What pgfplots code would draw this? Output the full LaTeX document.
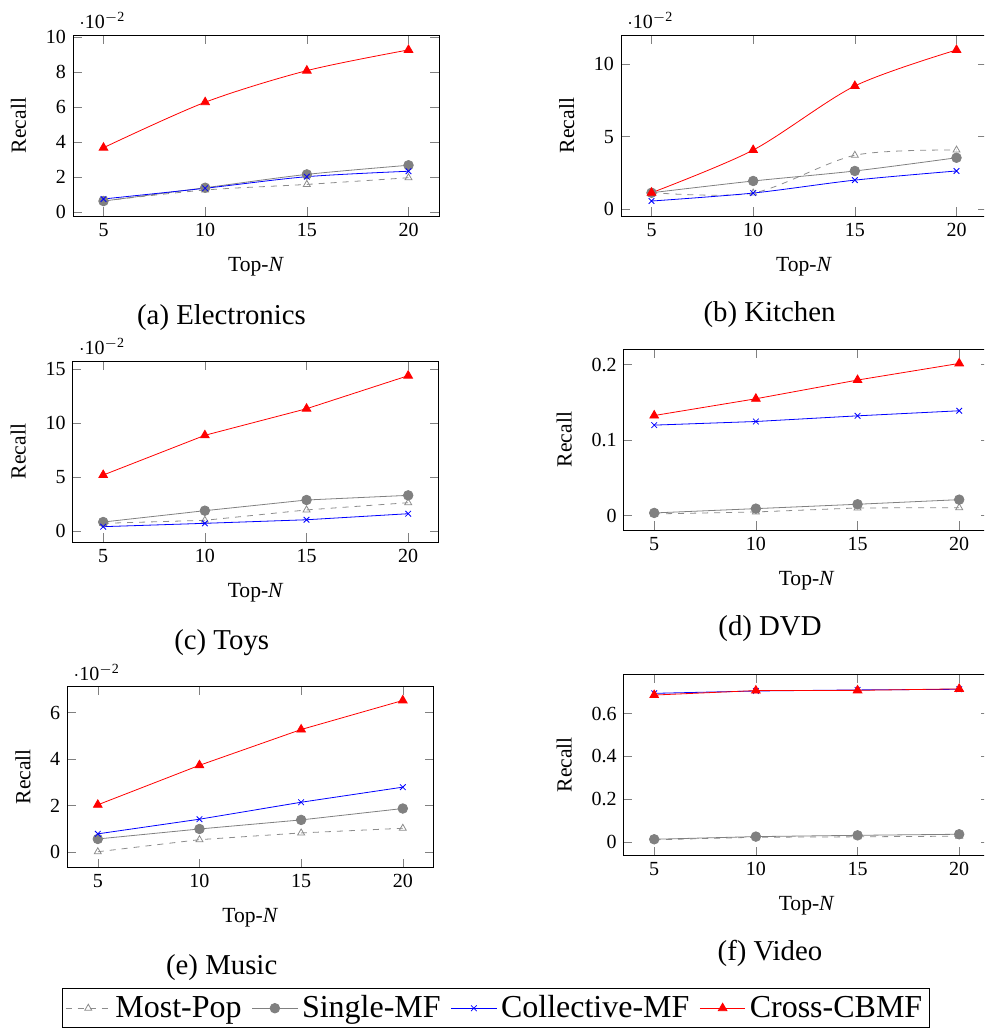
\documentclass[border=0pt]{standalone}
\usepackage{fontspec}
\setmainfont{Liberation Serif}
\usepackage{pgfplots}
\pgfplotsset{compat=1.18}

\pgfplotsset{
  panel/.style={
    scale only axis, width=183pt, height=90.5pt, anchor=south west,
    xmin=3.5, xmax=21.5, xtick={5,10,15,20}, enlargelimits=false,
    /pgf/number format/assume math mode=true,
    tick label style={font=\fontsize{10}{12}\selectfont},
    label style={font=\fontsize{10.8}{13}\selectfont},
    xlabel={Top-\textit{N}}, ylabel={Recall},
    xlabel style={yshift=-3.5pt}, ylabel style={yshift=3pt},
    ytick scale label code/.code={\(\cdot\)10\textsuperscript{\(-\)2}},
  },
  mostpop/.style={gray!90, dashed, mark=triangle, mark size=2pt, mark options={solid}},
  single/.style={gray, solid, mark=*, mark size=2.4pt},
  collective/.style={blue, solid, mark=x, mark size=2pt},
  cross/.style={red, solid, mark=triangle*, mark size=2.5pt},
}

\begin{document}
\begin{tikzpicture}
\useasboundingbox (0,0) rectangle (492pt,-516pt);
\clip (0,0) rectangle (492pt,-516pt);

% (a) Electronics
\begin{axis}[panel, at={(36.5pt,-108pt)}, ymin=-0.0021, ymax=0.101,
  ytick={0,0.02,0.04,0.06,0.08,0.1}, scaled y ticks=base 10:2]
\addplot[mostpop, smooth] coordinates {(5,0.0065) (10,0.0127) (15,0.0159) (20,0.0197)};
\addplot[single, smooth] coordinates {(5,0.0064) (10,0.0140) (15,0.0216) (20,0.0268)};
\addplot[collective, smooth] coordinates {(5,0.0076) (10,0.0137) (15,0.0203) (20,0.0234)};
\addplot[cross, smooth] coordinates {(5,0.0368) (10,0.0627) (15,0.0807) (20,0.0925)};
\end{axis}
\node[font=\fontsize{14.4}{17}\selectfont, anchor=base] at (110.75pt,-162pt) {(a) Electronics};

% (b) Kitchen
\begin{axis}[panel, at={(310.5pt,-108pt)}, ymin=-0.0046, ymax=0.12,
  ytick={0,0.05,0.1}, scaled y ticks=base 10:2]
\addplot[mostpop, smooth] coordinates {(5,0.0115) (10,0.0112) (15,0.0372) (20,0.0408)};
\addplot[single, smooth] coordinates {(5,0.0114) (10,0.0195) (15,0.0264) (20,0.0355)};
\addplot[collective, smooth] coordinates {(5,0.0057) (10,0.0112) (15,0.0201) (20,0.0264)};
\addplot[cross, smooth] coordinates {(5,0.0114) (10,0.0408) (15,0.0849) (20,0.1097)};
\end{axis}
\node[font=\fontsize{14.4}{17}\selectfont, anchor=base] at (384.75pt,-160.5pt) {(b) Kitchen};

% (c) Toys
\begin{axis}[panel, at={(36.35pt,-271pt)}, ymin=-0.0099, ymax=0.1577,
  ytick={0,0.05,0.1,0.15}, scaled y ticks=base 10:2]
\addplot[mostpop] coordinates {(5,0.0074) (10,0.0102) (15,0.0198) (20,0.0265)};
\addplot[single] coordinates {(5,0.0086) (10,0.0191) (15,0.0290) (20,0.0333)};
\addplot[collective] coordinates {(5,0.0043) (10,0.0074) (15,0.0107) (20,0.0163)};
\addplot[cross] coordinates {(5,0.0521) (10,0.0889) (15,0.1135) (20,0.1441)};
\end{axis}
\node[font=\fontsize{14.4}{17}\selectfont, anchor=base] at (110.85pt,-324.5pt) {(c) Toys};

% (d) DVD
\begin{axis}[panel, at={(311.85pt,-265pt)}, ymin=-0.019, ymax=0.2207,
  ytick={0,0.1,0.2}, scaled y ticks=false]
\addplot[mostpop] coordinates {(5,0.0023) (10,0.0049) (15,0.0102) (20,0.0106)};
\addplot[single] coordinates {(5,0.0036) (10,0.0093) (15,0.0151) (20,0.0212)};
\addplot[collective] coordinates {(5,0.1199) (10,0.1247) (15,0.1322) (20,0.1389)};
\addplot[cross] coordinates {(5,0.1326) (10,0.1548) (15,0.1796) (20,0.2016)};
\end{axis}
\node[font=\fontsize{14.4}{17}\selectfont, anchor=base] at (385pt,-317.75pt) {(d) DVD};

% (e) Music, carries the shared legend
\begin{axis}[panel, at={(33.65pt,-433.65pt)}, ymin=-0.0066, ymax=0.0713,
  ytick={0,0.02,0.04,0.06}, scaled y ticks=base 10:2,
  legend columns=4,
  legend style={at={(1.1705,-0.668)}, anchor=north, draw=black,
    font=\fontsize{16}{19}\selectfont, inner sep=1.5pt,
    /tikz/every even column/.append style={column sep=3pt}},
  legend image code/.code={\draw[mark repeat=2,mark phase=2,#1]
    plot coordinates {(0cm,0cm) (0.4cm,0cm) (0.8cm,0cm)};}]
\addplot[mostpop] coordinates {(5,0.0001) (10,0.0053) (15,0.0082) (20,0.0102)};
\addplot[single] coordinates {(5,0.0056) (10,0.0099) (15,0.0138) (20,0.0187)};
\addplot[collective] coordinates {(5,0.0078) (10,0.0141) (15,0.0214) (20,0.0279)};
\addplot[cross] coordinates {(5,0.0203) (10,0.0373) (15,0.0527) (20,0.0652)};
\legend{Most-Pop, Single-MF, Collective-MF, Cross-CBMF}
\end{axis}
\node[font=\fontsize{14.4}{17}\selectfont, anchor=base] at (110.85pt,-487pt) {(e) Music};

% (f) Video
\begin{axis}[panel, at={(311.85pt,-427.65pt)}, ymin=-0.0625, ymax=0.784,
  ytick={0,0.2,0.4,0.6}, scaled y ticks=false]
\addplot[mostpop] coordinates {(5,0.010) (10,0.022) (15,0.024) (20,0.027)};
\addplot[single] coordinates {(5,0.0125) (10,0.025) (15,0.031) (20,0.036)};
\addplot[collective] coordinates {(5,0.695) (10,0.706) (15,0.711) (20,0.714)};
\addplot[cross] coordinates {(5,0.687) (10,0.708) (15,0.709) (20,0.716)};
\end{axis}
\node[font=\fontsize{14.4}{17}\selectfont, anchor=base] at (385pt,-480pt) {(f) Video};
\end{tikzpicture}
\end{document}
